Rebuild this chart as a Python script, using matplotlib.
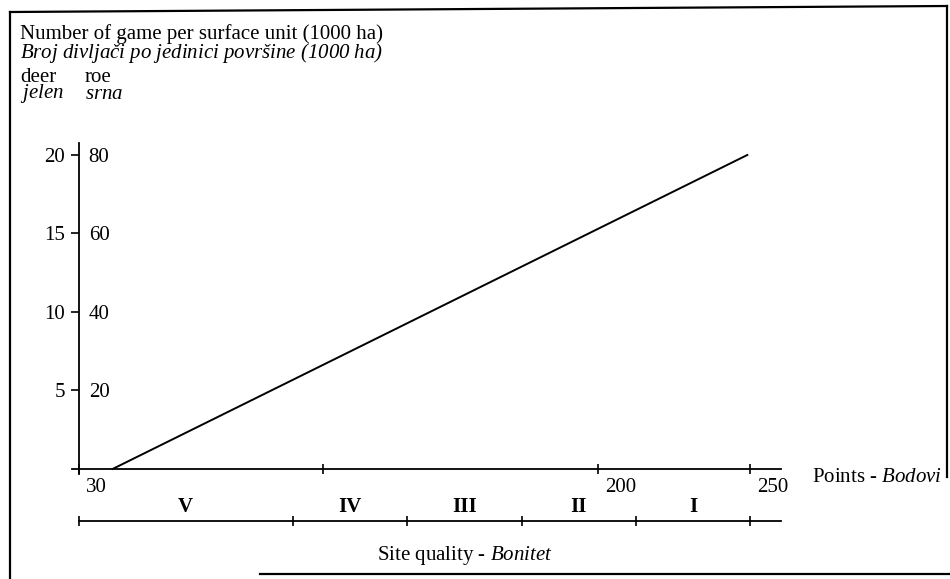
import matplotlib
matplotlib.use("Agg")
import matplotlib.pyplot as plt
from matplotlib.lines import Line2D
from matplotlib.transforms import ScaledTranslation

plt.rcParams['font.family'] = ['Liberation Serif', 'DejaVu Serif']
plt.rcParams['font.size'] = 15
plt.rcParams['mathtext.fontset'] = 'custom'
# math parts are only used for the italic (Serbian) words, digits included
plt.rcParams['mathtext.rm'] = 'Liberation Serif:italic'
plt.rcParams['mathtext.it'] = 'Liberation Serif:italic'

# data
points = [41, 249]          # Points - Bodovi
deer = [0, 20]              # game per 1000 ha (deer / jelen)
deer_ticks = [5, 10, 15, 20]
roe_ticks = [20, 40, 60, 80]  # roe = 4 x deer
x_ticks = [30, 110, 200, 250]
x_tick_labels = ['30', '', '200', '250']
site_bounds = [30, 100, 137.5, 175, 212.5, 250]
site_classes = ['V', 'IV', 'III', 'II', 'I']

W, H = 950, 579
fig = plt.figure(figsize=(W / 100, H / 100), dpi=100)

def fx(px):
    return px / W

def fy(py):
    return 1 - py / H

xlim = (27.7, 262)
ylim = (-0.3, 20.75)

ax = fig.add_axes([fx(72), fy(473.7), fx(715), 330.5 / H])
ax.plot(points, deer, color='black', lw=1.4)
ax.set_xlim(*xlim)
ax.set_ylim(*ylim)
for s in ['top', 'right']:
    ax.spines[s].set_visible(False)
ax.spines['left'].set_position(('data', 30))
ax.spines['bottom'].set_position(('data', 0))
ax.spines['bottom'].set_bounds(xlim[0], 260)
for s in ['left', 'bottom']:
    ax.spines[s].set_linewidth(1.3)

ax.set_xticks(x_ticks)
ax.set_xticklabels(x_tick_labels)
ax.tick_params(axis='x', direction='inout', length=6.5, width=1.2, pad=3)
for lbl in ax.get_xticklabels():
    lbl.set_horizontalalignment('left')
    lbl.set_transform(lbl.get_transform() + ScaledTranslation(5 / 72, 0, fig.dpi_scale_trans))

ax.set_yticks(deer_ticks)
ax.set_yticklabels([str(v) for v in deer_ticks])
ax.tick_params(axis='y', direction='out', length=6, width=1.2, pad=4)

# roe scale on the right side of the same axis line
ax2 = ax.twinx()
ax2.set_ylim(ylim[0] * 4, ylim[1] * 4)
for s in ax2.spines.values():
    s.set_visible(False)
ax2.spines['right'].set_position(('data', 30))
ax2.set_yticks(roe_ticks)
ax2.set_yticklabels([str(v) for v in roe_ticks])
ax2.tick_params(axis='y', length=0, pad=7)

ax.annotate(r'Points - $Bodovi$', xy=(1, 0), xycoords=ax.get_yaxis_transform(),
            xytext=(18, -6), textcoords='offset points', ha='left', va='center')

# site quality bar
ax_site = fig.add_axes([fx(72), fy(541), fx(715), 20 / H])
ax_site.set_xlim(*xlim)
ax_site.set_ylim(0, 1)
for s in ['left', 'right', 'bottom']:
    ax_site.spines[s].set_visible(False)
ax_site.spines['top'].set_bounds(30, 260)
ax_site.spines['top'].set_linewidth(1.3)
ax_site.set_yticks([])
mids = [(a + b) / 2 for a, b in zip(site_bounds[:-1], site_bounds[1:])]
ax_site.set_xticks(site_bounds)
ax_site.set_xticklabels([''] * len(site_bounds))
ax_site.set_xticks(mids, minor=True)
ax_site.set_xticklabels(site_classes, minor=True)
ax_site.tick_params(which='major', top=True, bottom=False, labeltop=False, labelbottom=False,
                    direction='inout', length=6.5, width=1.2)
ax_site.tick_params(which='minor', top=True, bottom=False, labeltop=True, labelbottom=False,
                    length=0, pad=3)
for lbl in ax_site.get_xticklabels(minor=True):
    lbl.set_fontweight('bold')
ax_site.set_xlabel(r'Site quality - $Bonitet$')
ax_site.xaxis.set_label_position('bottom')
ax_site.xaxis.set_label_coords(0.55, -0.15)

# headers (two-line blocks, second line italic)
fig.text(fx(20), fy(24),
         'Number of game per surface unit (1000 ha)\n'
         r'$Broj\ divljači\ po\ jedinici\ površine\ (1000\ ha)$',
         va='top', linespacing=0.8)
fig.text(fx(20), fy(68), 'deer\n' r'$jelen$', va='top', linespacing=0.66)
fig.text(fx(85), fy(68), 'roe\n' r'$srna$', va='top', linespacing=0.86)

# scanned frame
frame = [((10, 10), (12, 579)), ((10, 947), (12, 6)), ((947, 947), (6, 477)), ((260, 950), (574, 574))]
for xs, ys in frame:
    fig.add_artist(Line2D([fx(x) for x in xs], [fy(y) for y in ys], color='black', lw=1.6,
                          transform=fig.transFigure))

fig.savefig('out.png', dpi=100)
